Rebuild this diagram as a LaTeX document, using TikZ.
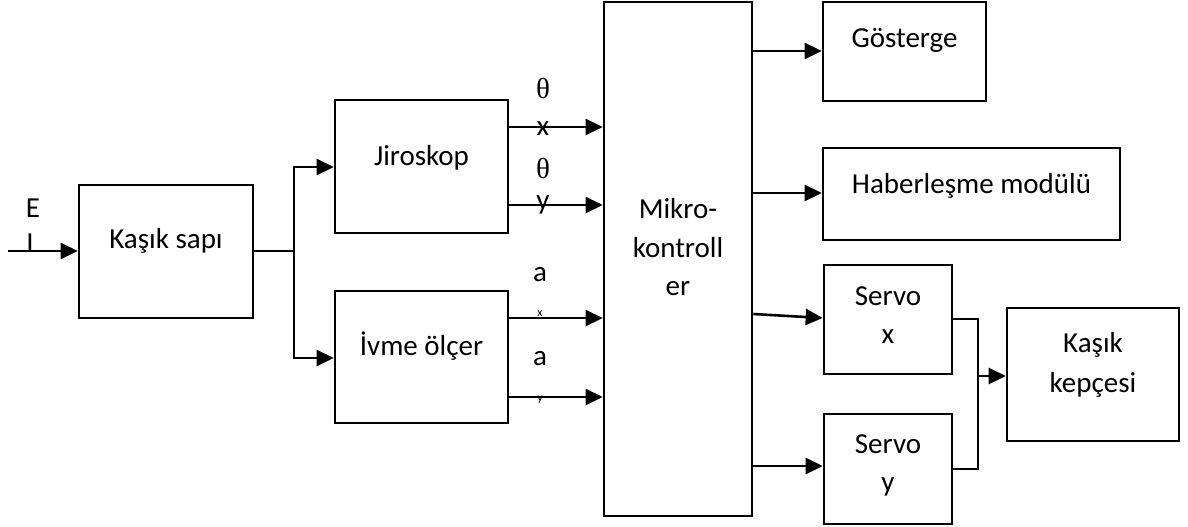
\documentclass[tikz,border=0pt]{standalone}
\usepackage{fontspec}
\setmainfont{Carlito}
\newfontfamily\symfont{Liberation Serif}
\usetikzlibrary{arrows.meta}
\tikzset{
  box/.style={draw=black, line width=2.6pt, inner sep=0pt, minimum width=#1},
  box/.default=100pt,
  txt/.style={inner sep=0pt, anchor=base, font=\fontsize{29}{38.5}\selectfont, align=center},
  sym/.style={inner sep=0pt, anchor=base, font=\symfont\fontsize{29}{34}\selectfont},
  sub/.style={inner sep=0pt, anchor=base, font=\fontsize{12}{14}\selectfont},
  wire/.style={line width=2.6pt},
  arr/.style={line width=2.6pt, -{Triangle[length=17pt,width=16pt]}},
}
\begin{document}
\begin{tikzpicture}[x=1pt,y=-1pt]
\useasboundingbox (0,0) rectangle (1188,527);
% boxes
\node[box=174pt, minimum height=133pt] (sapi) at (166,251.5) {};
\node[box=173pt, minimum height=133pt] (jiro) at (421.5,166.5) {};
\node[box=173pt, minimum height=132pt] (ivme) at (421.5,357) {};
\node[box=148pt, minimum height=514pt] (mikro) at (678,259) {};
\node[box=163pt, minimum height=99pt] (gost) at (904.5,51.5) {};
\node[box=297pt, minimum height=92pt] (haber) at (971.5,194) {};
\node[box=128pt, minimum height=109pt] (servox) at (888,319.5) {};
\node[box=128pt, minimum height=110pt] (servoy) at (888,469) {};
\node[box=172pt, minimum height=133pt] (kepce) at (1093,374.5) {};
% box texts
\node[txt] (tsapi) at (166,248) {Kaşık sapı};
\node[txt] (tjiro) at (421.5,165) {Jiroskop};
\node[txt] (tivme) at (421.5,355) {İvme ölçer};
\node[txt] (tmik1) at (678,218) {Mikro-};
\node[txt] (tmik2) at (678,257) {kontroll};
\node[txt] (tmik3) at (678,295) {er};
\node[txt] (tgost) at (904.5,48) {Gösterge};
\node[txt] (thaber) at (971.5,193) {Haberleşme modülü};
\node[txt] (tsx1) at (888,305) {Servo};
\node[txt] (tsx2) at (888,343) {x};
\node[txt] (tsy1) at (888,453) {Servo};
\node[txt] (tsy2) at (888,491) {y};
\node[txt] (tkep1) at (1093,352) {Kaşık};
\node[txt] (tkep2) at (1093,392) {kepçesi};
% input
\coordinate (in) at (8,251);
\draw[arr] (in) -- (sapi.west |- in);
\node[txt] (tE) at (33,217) {E};
\node[txt] (tI) at (30,252) {I};
% branch
\coordinate (br) at (294,251);
\coordinate (bj) at (294,167);
\coordinate (bi) at (294,358);
\draw[wire] (sapi.east |- br) -- (br);
\draw[arr] (br) -- (bj) -- (jiro.west |- bj);
\draw[arr] (br) -- (bi) -- (ivme.west |- bi);
% sensor outputs
\coordinate (r1) at (0,127);
\coordinate (r2) at (0,205);
\coordinate (r3) at (0,318);
\coordinate (r4) at (0,397);
\draw[arr] (jiro.east |- r1) -- (mikro.west |- r1);
\draw[arr] (jiro.east |- r2) -- (mikro.west |- r2);
\draw[arr] (ivme.east |- r3) -- (mikro.west |- r3);
\draw[arr] (ivme.east |- r4) -- (mikro.west |- r4);
\node[sym] (th1) at (543,98) {θ};
\node[txt] (lx) at (543,135) {x};
\node[sym] (th2) at (543,178) {θ};
\node[txt] (ly) at (543,209) {y};
\node[txt] (la1) at (540,281) {a};
\node[sub] (lsx) at (540,316) {x};
\node[txt] (la2) at (540,365) {a};
\node[sub] (lsy) at (540,401) {y};
% outputs of controller
\coordinate (o1) at (0,51);
\coordinate (o2) at (0,193);
\coordinate (o3a) at (0,314);
\coordinate (o3b) at (0,318);
\coordinate (o4) at (0,466);
\draw[arr] (mikro.east |- o1) -- (gost.west |- o1);
\draw[arr] (mikro.east |- o2) -- (haber.west |- o2);
\draw[arr] (mikro.east |- o3a) -- (servox.west |- o3b);
\draw[arr] (mikro.east |- o4) -- (servoy.west |- o4);
% servo merge
\coordinate (mx) at (978,319);
\coordinate (my) at (978,469);
\coordinate (mk) at (978,376);
\draw[wire] (servox.east |- mx) -- (mx) -- (my) -- (servoy.east |- my);
\draw[arr] (mk) -- (kepce.west |- mk);
\end{tikzpicture}
\end{document}
